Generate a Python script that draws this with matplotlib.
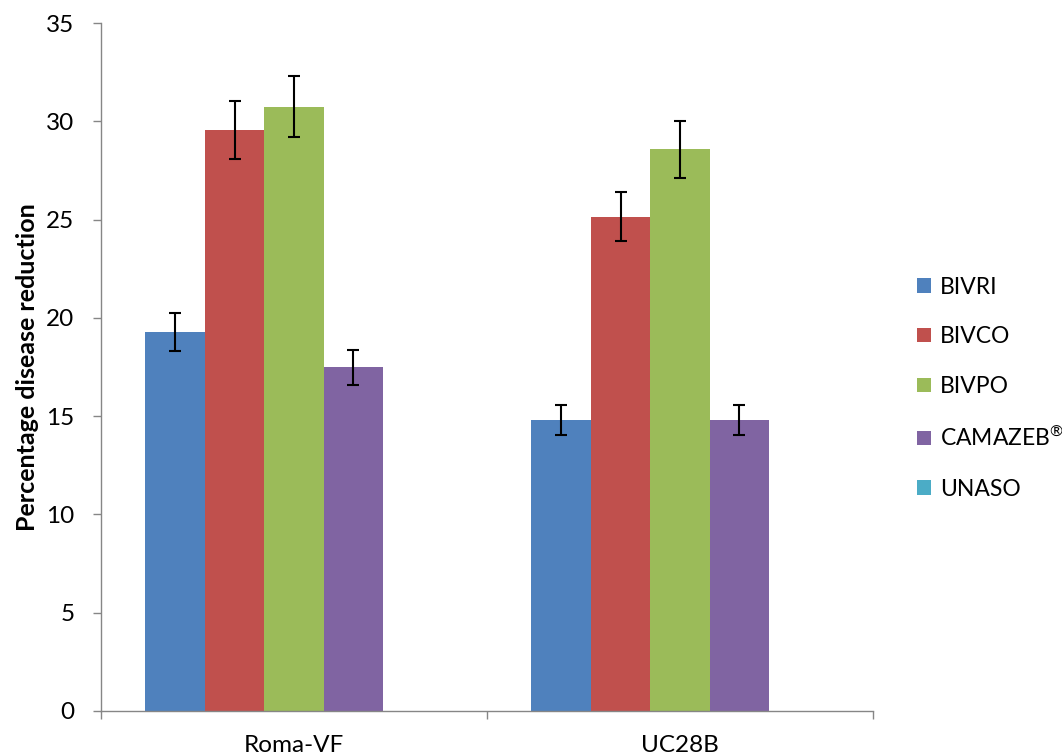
import numpy as np
import matplotlib
matplotlib.use("Agg")
import matplotlib.pyplot as plt

plt.rcParams['font.family'] = ['Lato', 'DejaVu Sans']
plt.rcParams['mathtext.fontset'] = 'custom'
plt.rcParams['mathtext.rm'] = 'Lato'
plt.rcParams['mathtext.it'] = 'Lato:italic'
plt.rcParams['mathtext.bf'] = 'Lato:bold'

varieties = ['Roma-VF', 'UC28B']
treatments = ['BIVRI', 'BIVCO', 'BIVPO', r'CAMAZEB$^{\mathrm{®}}$', 'UNASO']
colors = ['#4F81BD', '#C0504D', '#9BBB59', '#8064A2', '#4BACC6']

# mean percentage disease reduction per treatment (Roma-VF, UC28B)
bivri = [19.27, 14.80]
bivco = [29.57, 25.15]
bivpo = [30.75, 28.57]
camazeb = [17.48, 14.80]
unaso = [0.0, 0.0]

bivri_err = [0.96, 0.75]
bivco_err = [1.48, 1.24]
bivpo_err = [1.55, 1.44]
camazeb_err = [0.90, 0.75]
unaso_err = [0.0, 0.0]

values = [bivri, bivco, bivpo, camazeb, unaso]
errors = [bivri_err, bivco_err, bivpo_err, camazeb_err, unaso_err]

fig = plt.figure(figsize=(10.62, 7.55), dpi=100)
ax = fig.add_axes([0.0951, 0.0583, 0.7269, 0.9112])

x = np.arange(len(varieties)) + 0.5
w = 0.154
for i, (name, vals, errs, c) in enumerate(zip(treatments, values, errors, colors)):
    pos = x + (i - 2) * w
    ax.bar(pos, vals, width=w, color=c, label=name, edgecolor='none', zorder=2)
    if any(e > 0 for e in errs):
        ax.errorbar(pos, vals, yerr=errs, fmt='none', ecolor='black',
                    elinewidth=1.5, capsize=4.5, capthick=1.5, zorder=3)

ax.set_xlim(0, 2)
ax.set_ylim(0, 35)
ax.set_yticks(range(0, 36, 5))
ax.set_xticks([0, 1, 2])
ax.set_xticklabels([])
ax.set_xticks(x, minor=True)
ax.set_xticklabels(varieties, minor=True)
ax.tick_params(axis='x', which='minor', length=0, pad=17, labelsize=17.5)
ax.tick_params(axis='x', which='major', length=6, color='#868686', width=1)
ax.tick_params(axis='y', length=6, color='#868686', width=1, labelsize=17.5, pad=13)

for s in ['top', 'right']:
    ax.spines[s].set_visible(False)
for s in ['left', 'bottom']:
    ax.spines[s].set_color('#868686')
    ax.spines[s].set_linewidth(1)

ax.set_ylabel('Percentage disease reduction', fontsize=18, fontweight='bold', labelpad=5)

fig.legend(loc='center left', bbox_to_anchor=(0.8635, 0.486), frameon=False,
           fontsize=16.5, handlelength=0.6, handleheight=0.6, handletextpad=0.4,
           labelspacing=1.25, borderaxespad=0, borderpad=0)

fig.savefig('out.png', dpi=100)
